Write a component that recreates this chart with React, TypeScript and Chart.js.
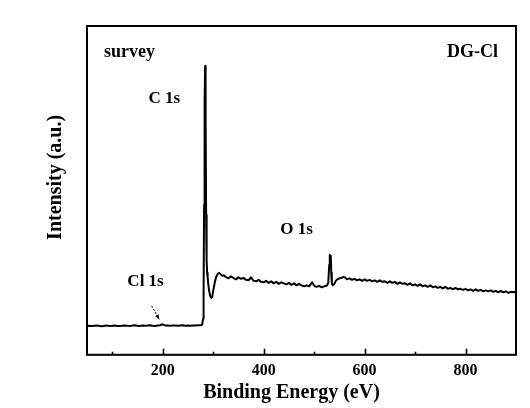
import React, { useEffect, useRef } from "react";
import { Chart, registerables } from "chart.js";

Chart.register(...registerables);

// XPS survey spectrum of DG-Cl: binding energy (eV) vs. intensity (a.u.)
const bindingEnergy = [
  50, 55, 60, 65, 70, 75, 80, 85, 90, 95, 100, 105, 110, 115, 120, 125, 130, 135, 140, 145,
  150, 155, 160, 165, 170, 175, 180, 185, 190, 195, 200, 202, 205, 210, 215, 220, 225, 230, 235, 240,
  245, 250, 255, 260, 265, 270, 275, 278, 280, 281, 282, 283, 284, 285, 286, 287, 288, 289, 290, 292,
  294, 296, 298, 300, 303, 306, 309, 312, 315, 318, 321, 325, 330, 335, 340, 345, 350, 355, 360, 365,
  370, 375, 380, 385, 390, 395, 400, 405, 410, 415, 420, 425, 430, 435, 440, 445, 450, 455, 460, 465,
  470, 475, 480, 485, 490, 493, 496, 499, 502, 505, 510, 515, 520, 525, 528, 530, 531, 532, 533, 534,
  535, 537, 540, 543, 546, 550, 555, 558, 561, 565, 570, 575, 580, 585, 590, 595, 600, 605, 610, 615,
  620, 625, 630, 635, 640, 645, 650, 655, 660, 665, 670, 675, 680, 685, 690, 695, 700, 705, 710, 715,
  720, 725, 730, 735, 740, 745, 750, 755, 760, 765, 770, 775, 780, 785, 790, 795, 800, 805, 810, 815,
  820, 825, 830, 835, 840, 845, 850, 855, 860, 865, 870, 875, 880, 885, 890, 895, 900,
];

const intensity = [
  2880, 2910, 2870, 2900, 2930, 2890, 2860, 2900, 2920, 2880, 2900, 2940, 2890, 2870, 2910, 2930, 2900, 2880, 2920, 2950,
  2910, 2890, 2930, 2900, 2920, 2950, 2910, 2890, 2930, 2960, 3060, 2990, 2940, 2920, 2900, 2940, 2920, 2900, 2930, 2950,
  2910, 2930, 2900, 2940, 2920, 2950, 2960, 3000, 3600, 6000, 15000, 25000, 28900, 24000, 14000, 9500, 8200, 7800, 7200, 6400,
  5900, 5700, 5800, 6400, 7200, 7800, 8100, 8200, 8050, 7900, 7950, 7800, 7650, 7850, 7700, 7550, 7750, 7600, 7700, 7500,
  7450, 7750, 7400, 7350, 7500, 7300, 7250, 7400, 7200, 7350, 7150, 7300, 7100, 7250, 7150, 7050, 7200, 7000, 7150, 6950,
  7100, 6950, 6850, 6950, 6850, 7050, 7250, 7000, 6850, 6800, 6900, 6750, 6850, 6900, 7200, 9000, 10000, 9800, 9900, 8200,
  7200, 6950, 7100, 7400, 7550, 7650, 7700, 7800, 7750, 7550, 7650, 7500, 7600, 7450, 7550, 7400, 7550, 7400, 7500, 7350,
  7450, 7300, 7450, 7300, 7350, 7200, 7350, 7200, 7300, 7100, 7250, 7100, 7150, 7000, 7150, 6950, 7050, 6900, 7050, 6850,
  6950, 6800, 6950, 6750, 6850, 6700, 6800, 6650, 6800, 6600, 6700, 6550, 6700, 6550, 6600, 6500, 6600, 6450, 6550, 6400,
  6550, 6400, 6500, 6350, 6450, 6350, 6450, 6300, 6400, 6250, 6400, 6250, 6350, 6200, 6300, 6250, 6300,
];

// x-axis tick marks: labelled majors and unlabelled minors
const majorTicks = [200, 400, 600, 800];
const minorTicks = [100, 300, 500, 700];

// peak annotations placed in data coordinates
const peakLabels = [
  { text: "C 1s", energy: 203, value: 25600 },
  { text: "O 1s", energy: 465, value: 12500 },
  { text: "Cl 1s", energy: 166, value: 7300 },
];
const clArrow = { from: [178, 4900], to: [193, 3550] };

const SERIF = "'Liberation Serif', 'Times New Roman', serif";

const decorations = {
  id: "xpsDecorations",
  beforeDraw(chart: any) {
    const { ctx, width, height } = chart;
    ctx.save();
    ctx.fillStyle = "#ffffff";
    ctx.fillRect(0, 0, width, height);
    ctx.restore();
  },
  afterDraw(chart: any) {
    const { ctx, chartArea } = chart;
    const xs = chart.scales.x;
    const ys = chart.scales.y;
    const { left, right, top, bottom } = chartArea;
    ctx.save();

    // frame
    ctx.strokeStyle = "#000";
    ctx.lineWidth = 2;
    ctx.strokeRect(left, top, right - left, bottom - top);

    // inward tick marks on the bottom axis
    ctx.lineWidth = 1.6;
    ctx.beginPath();
    for (const v of majorTicks) {
      const px = Math.round(xs.getPixelForValue(v)) + 0.5;
      ctx.moveTo(px, bottom);
      ctx.lineTo(px, bottom - 6);
    }
    for (const v of minorTicks) {
      const px = Math.round(xs.getPixelForValue(v)) + 0.5;
      ctx.moveTo(px, bottom);
      ctx.lineTo(px, bottom - 3);
    }
    ctx.stroke();

    ctx.fillStyle = "#000";
    ctx.textBaseline = "middle";

    // corner labels
    ctx.font = `bold 18px ${SERIF}`;
    ctx.textAlign = "left";
    ctx.fillText("survey", left + 17, top + 26);
    ctx.textAlign = "right";
    ctx.fillText("DG-Cl", right - 18, top + 26);

    // peak labels
    ctx.font = `bold 17px ${SERIF}`;
    ctx.textAlign = "center";
    for (const p of peakLabels) {
      ctx.fillText(p.text, xs.getPixelForValue(p.energy), ys.getPixelForValue(p.value));
    }

    // dashed arrow to the Cl 1s feature
    const x0 = xs.getPixelForValue(clArrow.from[0]);
    const y0 = ys.getPixelForValue(clArrow.from[1]);
    const x1 = xs.getPixelForValue(clArrow.to[0]);
    const y1 = ys.getPixelForValue(clArrow.to[1]);
    ctx.lineWidth = 1;
    ctx.setLineDash([2, 1.5]);
    ctx.beginPath();
    ctx.moveTo(x0, y0);
    ctx.lineTo(x1, y1);
    ctx.stroke();
    ctx.setLineDash([]);
    const ang = Math.atan2(y1 - y0, x1 - x0);
    ctx.beginPath();
    ctx.moveTo(x1, y1);
    ctx.lineTo(x1 - 5 * Math.cos(ang - 0.4), y1 - 5 * Math.sin(ang - 0.4));
    ctx.lineTo(x1 - 5 * Math.cos(ang + 0.4), y1 - 5 * Math.sin(ang + 0.4));
    ctx.closePath();
    ctx.fill();

    // axis titles
    ctx.font = `bold 20px ${SERIF}`;
    ctx.textAlign = "center";
    ctx.fillText("Binding Energy (eV)", (left + right) / 2 - 10, 393);
    ctx.translate(56, (top + bottom) / 2 - 13);
    ctx.rotate(-Math.PI / 2);
    ctx.fillText("Intensity (a.u.)", 0, 0);

    ctx.restore();
  },
};

export default function App() {
  const canvasRef = useRef<HTMLCanvasElement>(null);

  useEffect(() => {
    if (!canvasRef.current) return;
    const points = bindingEnergy.map((e, i) => ({ x: e, y: intensity[i] }));
    const chart = new Chart(canvasRef.current, {
      type: "line",
      data: {
        datasets: [
          {
            data: points,
            borderColor: "#000",
            borderWidth: 2,
            borderJoinStyle: "round",
            pointRadius: 0,
            tension: 0,
            fill: false,
          },
        ],
      },
      options: {
        responsive: false,
        animation: false,
        devicePixelRatio: 1,
        layout: { padding: { left: 87, right: 14, top: 26, bottom: 22 } },
        plugins: { legend: { display: false }, tooltip: { enabled: false } },
        scales: {
          x: {
            type: "linear",
            min: 50,
            max: 900,
            border: { display: false },
            grid: { display: false, drawTicks: false },
            afterBuildTicks(scale: any) {
              scale.ticks = [...majorTicks].map((v) => ({ value: v }));
            },
            ticks: {
              autoSkip: false,
              maxRotation: 0,
              padding: 6,
              color: "#000",
              font: { family: SERIF, size: 16, weight: "bold" },
            },
          },
          y: {
            display: false,
            min: 0,
            max: 32900,
          },
        },
      },
      plugins: [decorations],
    });
    return () => chart.destroy();
  }, []);

  return (
    <div style={{ position: "absolute", left: 0, top: 0, width: 530, height: 408, background: "#fff" }}>
      <canvas ref={canvasRef} width={530} height={408} />
    </div>
  );
}
